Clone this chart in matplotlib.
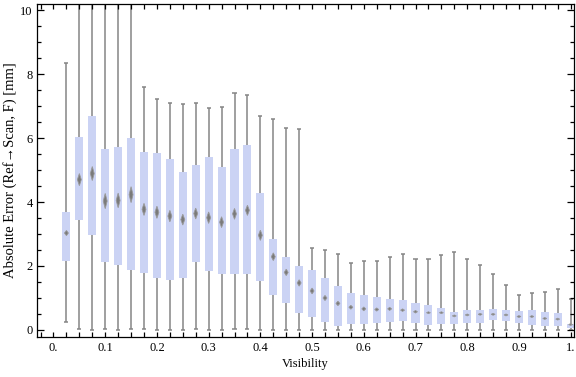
import numpy as np
import matplotlib
matplotlib.use("Agg")
import matplotlib.pyplot as plt
from matplotlib.ticker import MultipleLocator, FixedLocator

visibility = [round(0.025 * (i + 1), 3) for i in range(40)]
whisker_low = [0.26, 0.04, 0.0, 0.04, 0.0, 0.03, 0.04, 0.0, 0.0, 0.0,
               0.04, 0.0, 0.0, 0.02, 0.04, 0.0, 0.0, 0.0, 0.0, 0.0,
               0.0, 0.0, 0.0, 0.0, 0.0, 0.0, 0.0, 0.0, 0.0, 0.0,
               0.0, 0.0, 0.0, 0.0, 0.0, 0.0, 0.0, 0.0, 0.0, 0.0]
q1 = [2.15, 3.45, 2.96, 2.13, 2.03, 1.87, 1.79, 1.62, 1.56, 1.62,
      2.11, 1.84, 1.74, 1.74, 1.74, 1.53, 1.08, 0.84, 0.53, 0.41,
      0.24, 0.13, 0.18, 0.18, 0.21, 0.24, 0.28, 0.23, 0.17, 0.20,
      0.18, 0.23, 0.23, 0.30, 0.27, 0.23, 0.17, 0.11, 0.11, 0.05]
median = [3.03, 4.70, 4.89, 4.03, 4.05, 4.23, 3.77, 3.68, 3.56, 3.45,
          3.64, 3.51, 3.37, 3.63, 3.74, 2.96, 2.29, 1.80, 1.47, 1.22,
          1.00, 0.83, 0.71, 0.66, 0.64, 0.66, 0.62, 0.57, 0.54, 0.54,
          0.44, 0.47, 0.49, 0.49, 0.47, 0.42, 0.42, 0.36, 0.34, 0.17]
q3 = [3.70, 6.02, 6.70, 5.67, 5.73, 6.00, 5.55, 5.52, 5.33, 4.95,
      5.17, 5.42, 5.08, 5.67, 5.77, 4.29, 2.85, 2.29, 2.00, 1.89,
      1.64, 1.39, 1.17, 1.10, 1.02, 0.98, 0.95, 0.83, 0.77, 0.70,
      0.55, 0.61, 0.61, 0.67, 0.64, 0.58, 0.61, 0.55, 0.52, 0.20]
whisker_high = [8.33, 11.5, 11.5, 11.5, 11.5, 11.5, 7.60, 7.23, 7.10, 7.07,
                7.09, 6.94, 6.97, 7.41, 7.35, 6.69, 6.60, 6.32, 6.29, 2.56,
                2.50, 2.37, 2.10, 2.17, 2.17, 2.29, 2.38, 2.22, 2.22, 2.35,
                2.44, 2.22, 2.04, 1.76, 1.41, 1.10, 1.16, 1.19, 1.27, 0.98]
notch = [0.08, 0.19, 0.22, 0.24, 0.23, 0.25, 0.19, 0.19, 0.18, 0.17,
         0.17, 0.18, 0.17, 0.17, 0.16, 0.16, 0.12, 0.10, 0.10, 0.09,
         0.08, 0.07, 0.06, 0.06, 0.05, 0.05, 0.04, 0.04, 0.03, 0.03,
         0.03, 0.03, 0.03, 0.03, 0.03, 0.03, 0.03, 0.03, 0.03, 0.03]

x_tick_values = [0.0, 0.1, 0.2, 0.3, 0.4, 0.5, 0.6, 0.7, 0.8, 0.9, 1.0]
x_tick_labels = ["0.", "0.1", "0.2", "0.3", "0.4", "0.5", "0.6", "0.7", "0.8", "0.9", "1."]
y_tick_values = [0, 2, 4, 6, 8, 10]

plt.rcParams['font.family'] = ['Liberation Serif', 'DejaVu Serif']

fig = plt.figure(figsize=(5.76, 3.77), dpi=100)
ax = fig.add_axes([0.0637, 0.1069, 0.997 - 0.0637, 0.9886 - 0.1069])

x = np.array(visibility)
lo = np.array(whisker_low)
hi = np.array(whisker_high)
b1 = np.array(q1)
b3 = np.array(q3)
med = np.array(median)
nt = np.array(notch)

box_w = 0.0155
cap_half = 0.004
dia_half = 0.0038
wcol = '#858585'

ax.vlines(x, lo, hi, color=wcol, lw=1.1, zorder=1)
ax.hlines(lo, x - cap_half, x + cap_half, color=wcol, lw=1.1, zorder=1)
ax.hlines(hi, x - cap_half, x + cap_half, color=wcol, lw=1.1, zorder=1)
ax.bar(x, b3 - b1, bottom=b1, width=box_w, color='#cbd3f4', edgecolor='none', zorder=2)
for xi, mi, ni in zip(x, med, nt):
    ax.fill([xi - dia_half, xi, xi + dia_half, xi], [mi, mi + ni, mi, mi - ni],
            color='#7a7a7a', lw=0.6, edgecolor='#9a9a9a', zorder=3)

ax.set_xlim(-0.0325, 1.007)
ax.set_ylim(-0.21, 10.18)

ax.xaxis.set_major_locator(FixedLocator(x_tick_values))
ax.set_xticks(x_tick_values, x_tick_labels)
ax.xaxis.set_minor_locator(MultipleLocator(0.025))
ax.yaxis.set_major_locator(FixedLocator(y_tick_values))
ax.yaxis.set_minor_locator(MultipleLocator(0.5))

ax.tick_params(axis='both', which='both', direction='in', top=True, right=True,
               labelsize=9, colors='black', width=0.9)
ax.tick_params(axis='x', which='both', length=3.5, pad=4)
ax.tick_params(axis='y', which='major', length=5, pad=3)
ax.tick_params(axis='y', which='minor', length=3)
for s in ax.spines.values():
    s.set_linewidth(0.9)

ax.set_xlabel("Visibility", fontsize=9, labelpad=3)
ax.set_ylabel("Absolute Error (Ref\u2192Scan, F) [mm]", fontsize=10.5, labelpad=2)

fig.savefig("out.png", dpi=100)
